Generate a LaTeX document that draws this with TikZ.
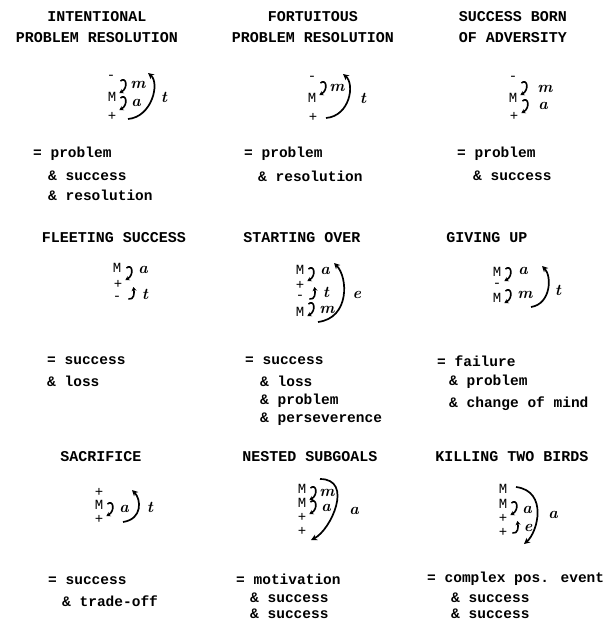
\documentclass[tikz,border=0pt]{standalone}
\usepackage{fontspec}
\newfontfamily\typefont{Liberation Mono}
\usetikzlibrary{arrows.meta}
% small hand-drawn links, drawn into the node they point at
\newcommand\downlink[1]{\draw[curl] (#1) ++(1,-12) .. controls +(6,-5) and +(9,-5) .. (#1);}
\newcommand\uplink[1]{\draw[curl] (#1) ++(-5,12) .. controls +(6,1) and +(1,6) .. (#1);}

\begin{document}
\begin{tikzpicture}[x=1pt,y=-1pt,
  heading/.style={font=\typefont\bfseries\fontsize{15}{21}\selectfont,align=center,inner sep=0pt},
  gloss/.style={font=\typefont\bfseries\fontsize{14.5}{15}\selectfont,anchor=west,inner sep=0pt},
  sym/.style={font=\typefont\fontsize{14}{14}\selectfont,inner sep=0pt},
  hand/.style={font=\bfseries\itshape\fontsize{16}{16}\selectfont,inner sep=0pt},
  curl/.style={line width=1.6pt,-{Stealth[length=4pt,width=5pt]}},
  bigarc/.style={line width=1.7pt,-{Stealth[length=6pt,width=6pt]}}]
\useasboundingbox (0,0) rectangle (603,621);
% headings
\foreach \x/\y/\t [count=\i] in {97/27.5/{INTENTIONAL\\PROBLEM RESOLUTION},313/27.5/{FORTUITOUS\\PROBLEM RESOLUTION},
  513/27.5/{SUCCESS BORN\\OF ADVERSITY},114/238/{FLEETING SUCCESS},302/238/{STARTING OVER},487/238/{GIVING UP},
  101/457/{SACRIFICE},310/457/{NESTED SUBGOALS},512/457/{KILLING TWO BIRDS}}
  {\node[heading] (head\i) at (\x,\y) {\t};}
% glosses
\foreach \x/\y/\t [count=\i] in {33/154/{= problem},48/176/{\& success},48/195/{\& resolution},
  244/154/{= problem},258/176/{\& resolution},457/154/{= problem},473/176/{\& success},
  47/361/{= success},47/381/{\& loss},245/361/{= success},260/381/{\& loss},260/401/{\& problem},
  260/419/{\& perseverence},437/361/{= failure},449/382/{\& problem},449/404/{\& change of mind},
  48/581/{= success},62/601/{\& trade-off},236/579/{= motivation},250/598/{\& success},
  250/614/{\& success},427/579/{= complex pos. event},451/598/{\& success},451/614/{\& success}}
  {\node[gloss] (gloss\i) at (\x,\y) {\t};}
% intentional problem resolution
\node[sym] (p1mi) at (111,77) {-};
\node[sym] (p1M) at (112,97) {M};
\node[sym] (p1pl) at (112,116) {+};
\node[hand] (p1m) at (138,85) {m};
\node[hand] (p1a) at (136,103) {a};
\node[hand] (p1t) at (164,97) {t};
\downlink{[shift={(3,-4)}]p1M.east}
\downlink{[shift={(3,-6)}]p1pl.east}
\coordinate (p1s) at (128,119);
\coordinate (p1e) at (148,73);
\draw[bigarc] (p1s) .. controls +(24,-2) and +(12,10) .. (p1e);
% fortuitous problem resolution
\node[sym] (p2mi) at (312,78) {-};
\node[sym] (p2M) at (312,98) {M};
\node[sym] (p2pl) at (313,117) {+};
\node[hand] (p2m) at (337,88) {m};
\node[hand] (p2t) at (363,98) {t};
\downlink{[shift={(3,-3)}]p2M.east}
\coordinate (p2s) at (326,118);
\coordinate (p2e) at (343,74);
\draw[bigarc] (p2s) .. controls +(24,-2) and +(12,10) .. (p2e);
% success born of adversity
\node[sym] (p3mi) at (513,78) {-};
\node[sym] (p3M) at (513,98) {M};
\node[sym] (p3pl) at (514,116) {+};
\node[hand] (p3m) at (545,89) {m};
\node[hand] (p3a) at (543,106) {a};
\downlink{[shift={(3,-3)}]p3M.east}
\downlink{[shift={(3,-3)}]p3pl.east}
% fleeting success
\node[sym] (p4M) at (117,268) {M};
\node[sym] (p4pl) at (118,284) {+};
\node[sym] (p4mi) at (117,298) {-};
\node[hand] (p4a) at (143,270) {a};
\node[hand] (p4t) at (145,294) {t};
\downlink{[shift={(3,-4)}]p4pl.east}
\uplink{[shift={(11,3)}]p4pl.east}
% starting over
\node[sym] (p5M) at (300,270) {M};
\node[sym] (p5pl) at (300,285) {+};
\node[sym] (p5mi) at (300,297) {-};
\node[sym] (p5M2) at (300,312) {M};
\node[hand] (p5a) at (325,271) {a};
\node[hand] (p5t) at (326,292) {t};
\node[hand] (p5m) at (327,310) {m};
\node[hand] (p5e) at (357,295) {e};
\downlink{[shift={(3,-4)}]p5pl.east}
\uplink{[shift={(10,2)}]p5pl.east}
\downlink{[shift={(3,4)}]p5M2.east}
\coordinate (p5s) at (318,322);
\coordinate (p5e0) at (334,263);
\draw[bigarc] (p5s) .. controls +(32,-4) and +(14,14) .. (p5e0);
% giving up
\node[sym] (p6M) at (497,272) {M};
\node[sym] (p6mi) at (497,285) {-};
\node[sym] (p6M2) at (497,298) {M};
\node[hand] (p6a) at (523,271) {a};
\node[hand] (p6m) at (525,295) {m};
\node[hand] (p6t) at (558,290) {t};
\downlink{[shift={(3,-4)}]p6mi.east}
\downlink{[shift={(3,5)}]p6M2.east}
\coordinate (p6s) at (531,307);
\coordinate (p6e) at (542,266);
\draw[bigarc] (p6s) .. controls +(20,-3) and +(10,10) .. (p6e);
% sacrifice
\node[sym] (p7pl) at (99,492) {+};
\node[sym] (p7M) at (99,505) {M};
\node[sym] (p7pl2) at (99,519) {+};
\node[hand] (p7a) at (124,509) {a};
\node[hand] (p7t) at (150,507) {t};
\downlink{[shift={(3,-3)}]p7pl2.east}
\coordinate (p7s) at (123,522);
\coordinate (p7e) at (132,490);
\draw[bigarc] (p7s) .. controls +(20,-3) and +(9,9) .. (p7e);
% nested subgoals
\node[sym] (p8M) at (302,489) {M};
\node[sym] (p8M2) at (302,503) {M};
\node[sym] (p8pl) at (302,517) {+};
\node[sym] (p8pl2) at (302,531) {+};
\node[hand] (p8m) at (327,493) {m};
\node[hand] (p8a) at (326,508) {a};
\node[hand] (p8a2) at (354,511) {a};
\downlink{[shift={(3,-3)}]p8M2.east}
\downlink{[shift={(3,-3)}]p8pl.east}
\coordinate (p8s) at (320,479);
\coordinate (p8e) at (311,540);
\draw[bigarc] (p8s) .. controls +(34,0) and +(20,-10) .. (p8e);
% killing two birds
\node[sym] (p9M) at (503,489) {M};
\node[sym] (p9M2) at (503,504) {M};
\node[sym] (p9pl) at (503,518) {+};
\node[sym] (p9pl2) at (503,532) {+};
\node[hand] (p9a) at (527,510) {a};
\node[hand] (p9e) at (528,528) {e};
\node[hand] (p9a2) at (553,515) {a};
\downlink{[shift={(3,-3)}]p9pl.east}
\uplink{[shift={(10,3)}]p9pl.east}
\coordinate (p9s) at (516,487);
\coordinate (p9e0) at (524,544);
\draw[bigarc] (p9s) .. controls +(32,4) and +(14,-12) .. (p9e0);
\end{tikzpicture}
\end{document}
